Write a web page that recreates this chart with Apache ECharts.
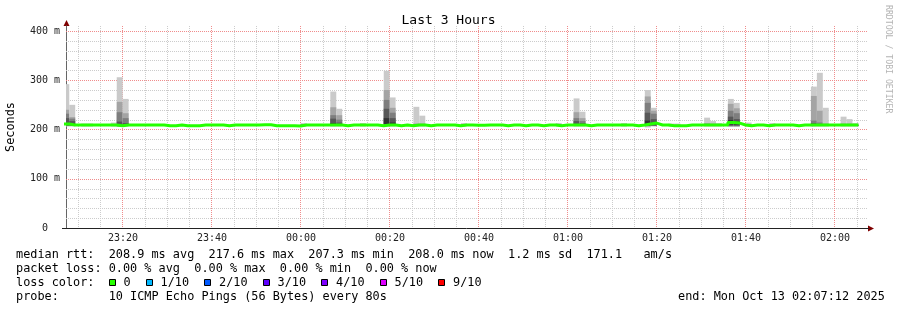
<!DOCTYPE html>
<html><head><meta charset="utf-8">
<script src="https://cdn.jsdelivr.net/npm/echarts@6/dist/echarts.min.js"></script>
<style>html,body{margin:0;padding:0;background:#fff}#c{width:897px;height:310px}</style>
</head><body><div id="c"></div>
<script>
// ---------------- data ----------------
const chartTitle = 'Last 3 Hours';
const axisStart = '23:07:12';
const axisEnd = '02:07:12';
const xTickLabels = ['23:20','23:40','00:00','00:20','00:40','01:00','01:20','01:40','02:00'];
const yTickValues = [0, 100, 200, 300, 400];           // ms
const firstStepStart = '23:06:36';
const stepSeconds = 80;
// median RTT per 80 s step (ms)
const medianRtt = [
  211,209,209,209,209,209,209,209,209,207.5,
  209,209,209,209,209,209,209,207.5,207.5,209,
  207.5,207.5,207.5,209,209,209,209,207.5,209,209,
  209,209,209,209.5,209.5,207.5,207.5,207.5,207.5,207,
  209,209,209,209,209,209,209,207.5,209,209,
  209,209,209,207.5,209,209,207.5,209,207.5,209,
  209,207.5,209,209,209,209,207.5,209,209,208.5,
  208.5,209,209,209,207.5,209,209,207.5,209,209,
  207.5,209,209,207.5,209,209,209,209,207.5,209,
  209,209,209,209,209,209,207.5,209,211,213,
  209,209,207.5,207.5,207.5,209,209,209,209,209,
  209,209,214,213,209,207.5,209,209,207.5,209,
  209,209,209,207.5,209,209,209,209,209,209,
  209,209,209,209
];
// steps with visible smoke and their 10 sorted ping times (ms)
const smokeSteps = [0,1,3,4,8,9,10,40,45,46,50,54,55,59,60,67,83,86,87,94,98,99,102,103,108,109,110,112,113,115,119,126,127,128,131,132,133];
const smokePings = [
  [206,207,207,208,210,213,223,232,240,292],
  [206,207,207,208,209,212,217,222,225,250],
  [206,207,207,208,208,209,209,210,211,212],
  [206,207,207,208,208,209,209,210,211,212],
  [206,207,207,208,208,209,209,210,211,214],
  [205,206,207,207,208,211,216,235,256,306],
  [206,207,207,208,209,210,213,223,233,262],
  [206,207,207,208,208,209,209,210,211,213],
  [206,207,207,208,209,213,222,229,245,277],
  [206,207,207,208,209,211,214,220,229,242],
  [206,207,207,208,208,209,209,210,211,213],
  [206,207,208,208,210,223,242,260,280,319],
  [206,207,207,208,209,214,223,234,244,265],
  [206,207,207,208,208,209,210,211,212,246],
  [206,207,207,208,208,209,210,211,212,228],
  [206,207,207,208,208,209,209,210,211,213],
  [206,207,207,208,208,209,209,210,211,213],
  [206,207,207,208,209,211,217,223,235,263],
  [206,207,207,208,209,210,213,217,223,236],
  [206,207,207,208,208,209,209,210,211,213],
  [204,206,207,207,207,218,234,254,267,280],
  [206,207,207,208,210,214,221,232,238,244],
  [206,207,207,207,208,208,209,209,210,212],
  [206,207,207,207,208,208,209,209,210,212],
  [206,207,207,208,208,209,210,211,213,224],
  [206,207,207,208,208,209,210,211,212,217],
  [206,207,207,208,208,209,209,210,211,213],
  [205,206,207,208,210,219,226,238,252,262],
  [205,206,207,208,210,216,221,233,243,254],
  [206,207,207,208,208,209,209,210,211,214],
  [206,207,207,208,208,209,209,210,211,213],
  [206,207,207,208,209,210,213,218,268,287],
  [206,207,207,208,209,210,211,214,238,315],
  [206,207,207,208,208,209,210,211,212,244],
  [206,207,207,208,208,209,210,211,212,226],
  [206,207,207,208,208,209,210,211,212,221],
  [206,207,207,208,208,209,209,210,211,213]
];
const rttStats = ['208.9','217.6','207.3','208.0','1.2','171.1'];
const lossStats = ['0.00','0.00','0.00','0.00'];
const lossLabels = ['0','1/10','2/10','3/10','4/10','5/10','9/10'];
const lossColors = ['#26ff00','#00b8ff','#0059ff','#5e00ff','#7e00ff','#dd00ff','#ff0000'];
const probeText = '10 ICMP Echo Pings (56 Bytes) every 80s';
const endText = 'end: Mon Oct 13 02:07:12 2025';

// ---------------- helpers / layout ----------------
function toMin(s){ // minutes since 23:00 (wrapping past midnight)
  const p = s.split(':').map(Number);
  const m = p[1] + (p[2]||0)/60;
  return p[0] >= 23 ? (p[0]-23)*60 + m : (p[0]+1)*60 + m;
}
function fmtMin(v){
  const t = Math.round(23*60 + v);
  const h = Math.floor(t/60) % 24, m = t % 60;
  return String(h).padStart(2,'0') + ':' + String(m).padStart(2,'0');
}
const xMin = toMin(axisStart), xMax = toMin(axisEnd);
const majorX = xTickLabels.map(toMin);
const yMax = 410;
// grid lines: [orientation (0 vertical, 1 horizontal), value, major?]
const gridLines = [];
for (let m = Math.ceil(xMin/5)*5; m < xMax; m += 5) if (m % 20 !== 0) gridLines.push([0, m, 0]);
for (let v = 20; v < yMax; v += 20) if (v % 100 !== 0) gridLines.push([1, v, 0]);
majorX.forEach(m => gridLines.push([0, m, 1]));
yTickValues.filter(v => v > 0).forEach(v => gridLines.push([1, v, 1]));

const t0 = toMin(firstStepStart), stepMin = stepSeconds/60;
const medData = medianRtt.map((v,k) => [t0 + k*stepMin, v]);
medData.push([t0 + medianRtt.length*stepMin, medianRtt[medianRtt.length-1]]);
const smokeData = smokeSteps.map((k,j) => [t0 + k*stepMin, t0 + (k+1)*stepMin].concat(smokePings[j]));
const shades = ['#cacaca','#a4a4a4','#7e7e7e','#585858','#323232'];

const G = {left:66, right:30, top:26, bottom:82};
const W = 897, H = 310;
const MONO = '"DejaVu Sans Mono", monospace';
const fs = 11.85, cw = fs*0.602, tx = 16;
const rowY = [254.5, 268.5, 282.5, 296.5];

const graphics = [];
function txt(s, x, y, extra){
  graphics.push(Object.assign({type:'text', silent:true, style:{text:s, x:x, y:y, font: fs+'px '+MONO, fill:'#000', verticalAlign:'middle', textAlign:'left'}}, extra||{}));
}
txt('median rtt:  ' + rttStats[0] + ' ms avg  ' + rttStats[1] + ' ms max  ' + rttStats[2] + ' ms min  ' + rttStats[3] + ' ms now  ' + rttStats[4] + ' ms sd  ' + rttStats[5] + '   am/s', tx, rowY[0]);
txt('packet loss: ' + lossStats[0] + ' % avg  ' + lossStats[1] + ' % max  ' + lossStats[2] + ' % min  ' + lossStats[3] + ' % now', tx, rowY[1]);
txt('loss color:', tx, rowY[2]);
let bx = tx + 13*cw;
lossLabels.forEach((lab, i) => {
  graphics.push({type:'rect', silent:true, shape:{x:Math.round(bx)+0.5, y:Math.round(rowY[2]-3.5)+0.5, width:6, height:6}, style:{fill:lossColors[i], stroke:'#000', lineWidth:1}});
  txt(lab, bx + 2.07*cw, rowY[2]);
  bx += (lab.length + 4.2)*cw;
});
txt('probe:       ' + probeText, tx, rowY[3]);
txt(endText, 678, rowY[3]);
// watermark
graphics.push({type:'text', silent:true, x:888.5, y:5, rotation:-Math.PI/2, style:{text:'RRDTOOL / TOBI OETIKER', x:0, y:0, font:'8.2px '+MONO, fill:'#b4b4b4', textAlign:'left', verticalAlign:'middle'}});
// axis arrows and axis extensions
const ax = G.left, ay = H - G.bottom, rx = W - G.right;
graphics.push({type:'polygon', silent:true, shape:{points:[[ax+0.5, G.top-6],[ax-2.5, G.top],[ax+3.5, G.top]]}, style:{fill:'#7f0000'}});
graphics.push({type:'polygon', silent:true, shape:{points:[[rx+7, ay+0.5],[rx+1, ay-2.5],[rx+1, ay+3.5]]}, style:{fill:'#7f0000'}});
graphics.push({type:'line', silent:true, shape:{x1:rx, y1:ay+0.5, x2:rx+2, y2:ay+0.5}, style:{stroke:'#222', lineWidth:1}});
graphics.push({type:'line', silent:true, shape:{x1:ax-4, y1:ay+0.5, x2:ax, y2:ay+0.5}, style:{stroke:'#222', lineWidth:1}});

const minorColor = '#cccccc', majorColor = '#f08c8c';

const chart = echarts.init(document.getElementById('c'), null, {renderer:'canvas'});
chart.setOption({
  animation:false,
  backgroundColor:'#fff',
  title:{text:chartTitle, left:'center', top:9, textStyle:{fontFamily:MONO, fontSize:13, fontWeight:'normal', color:'#000'}},
  grid:{left:G.left, right:G.right, top:G.top, bottom:G.bottom, containLabel:false, outerBoundsMode:'none'},
  xAxis:{type:'value', min:xMin, max:xMax, position:'bottom',
     axisLine:{show:true, lineStyle:{color:'#222', width:1}},
     axisTick:{show:false, customValues:majorX},
     axisLabel:{show:true, customValues:majorX, formatter:fmtMin, margin:5, fontFamily:MONO, fontSize:10, color:'#222'},
     splitLine:{show:false}},
  yAxis:{type:'value', min:0, max:yMax, position:'left',
     axisLine:{show:true, onZero:false, lineStyle:{color:'#666', width:1}},
     axisTick:{show:false, customValues:yTickValues},
     axisLabel:{show:true, customValues:yTickValues, formatter:v => v === 0 ? '0  ' : v + ' m', margin:6, fontFamily:MONO, fontSize:10, color:'#222'},
     splitLine:{show:false},
     name:'Seconds', nameLocation:'middle', nameGap:49, nameRotate:90,
     nameTextStyle:{fontFamily:MONO, fontSize:fs, color:'#000'}},
  series:[
    {type:'custom', name:'grid', clip:false, silent:true, z:1,
     data:gridLines,
     renderItem:function(params, api){
       const o = api.value(0), v = api.value(1), major = api.value(2);
       let a, b;
       if (o === 0){ a = api.coord([v, yMax]); b = api.coord([v, 0]); const x = Math.floor(a[0]) + 0.5; a[0] = x; b[0] = x; }
       else { a = api.coord([xMin, v]); b = api.coord([xMax, v]); const y = Math.round(a[1]) + 0.5; a[1] = y; b[1] = y; }
       return {type:'line', shape:{x1:a[0], y1:a[1], x2:b[0], y2:b[1]},
               style:{stroke: major ? majorColor : minorColor, lineWidth:1, lineDash:[1,1]}};
     }},
    {type:'custom', name:'smoke', clip:true, silent:true, z:2,
     encode:{x:[0,1], y:[2,3,4,5,6,7,8,9,10,11]},
     data:smokeData,
     renderItem:function(params, api){
       const x0 = api.value(0), x1 = api.value(1);
       const children = [];
       for (let i = 0; i < 5; i++){
         const lo = api.value(2+i), hi = api.value(11-i);
         const a = api.coord([x0, hi]), b = api.coord([x1, lo]);
         children.push({type:'rect', shape:{x:a[0], y:a[1], width:b[0]-a[0], height:b[1]-a[1]}, style:{fill:shades[i]}});
       }
       return {type:'group', children:children};
     }},
    {type:'line', name:'median', data:medData, step:'end', showSymbol:false, symbol:'none', silent:true, clip:true, z:3,
     lineStyle:{color:'#26ff00', width:3}}
  ],
  graphic:graphics
});
</script></body></html>
